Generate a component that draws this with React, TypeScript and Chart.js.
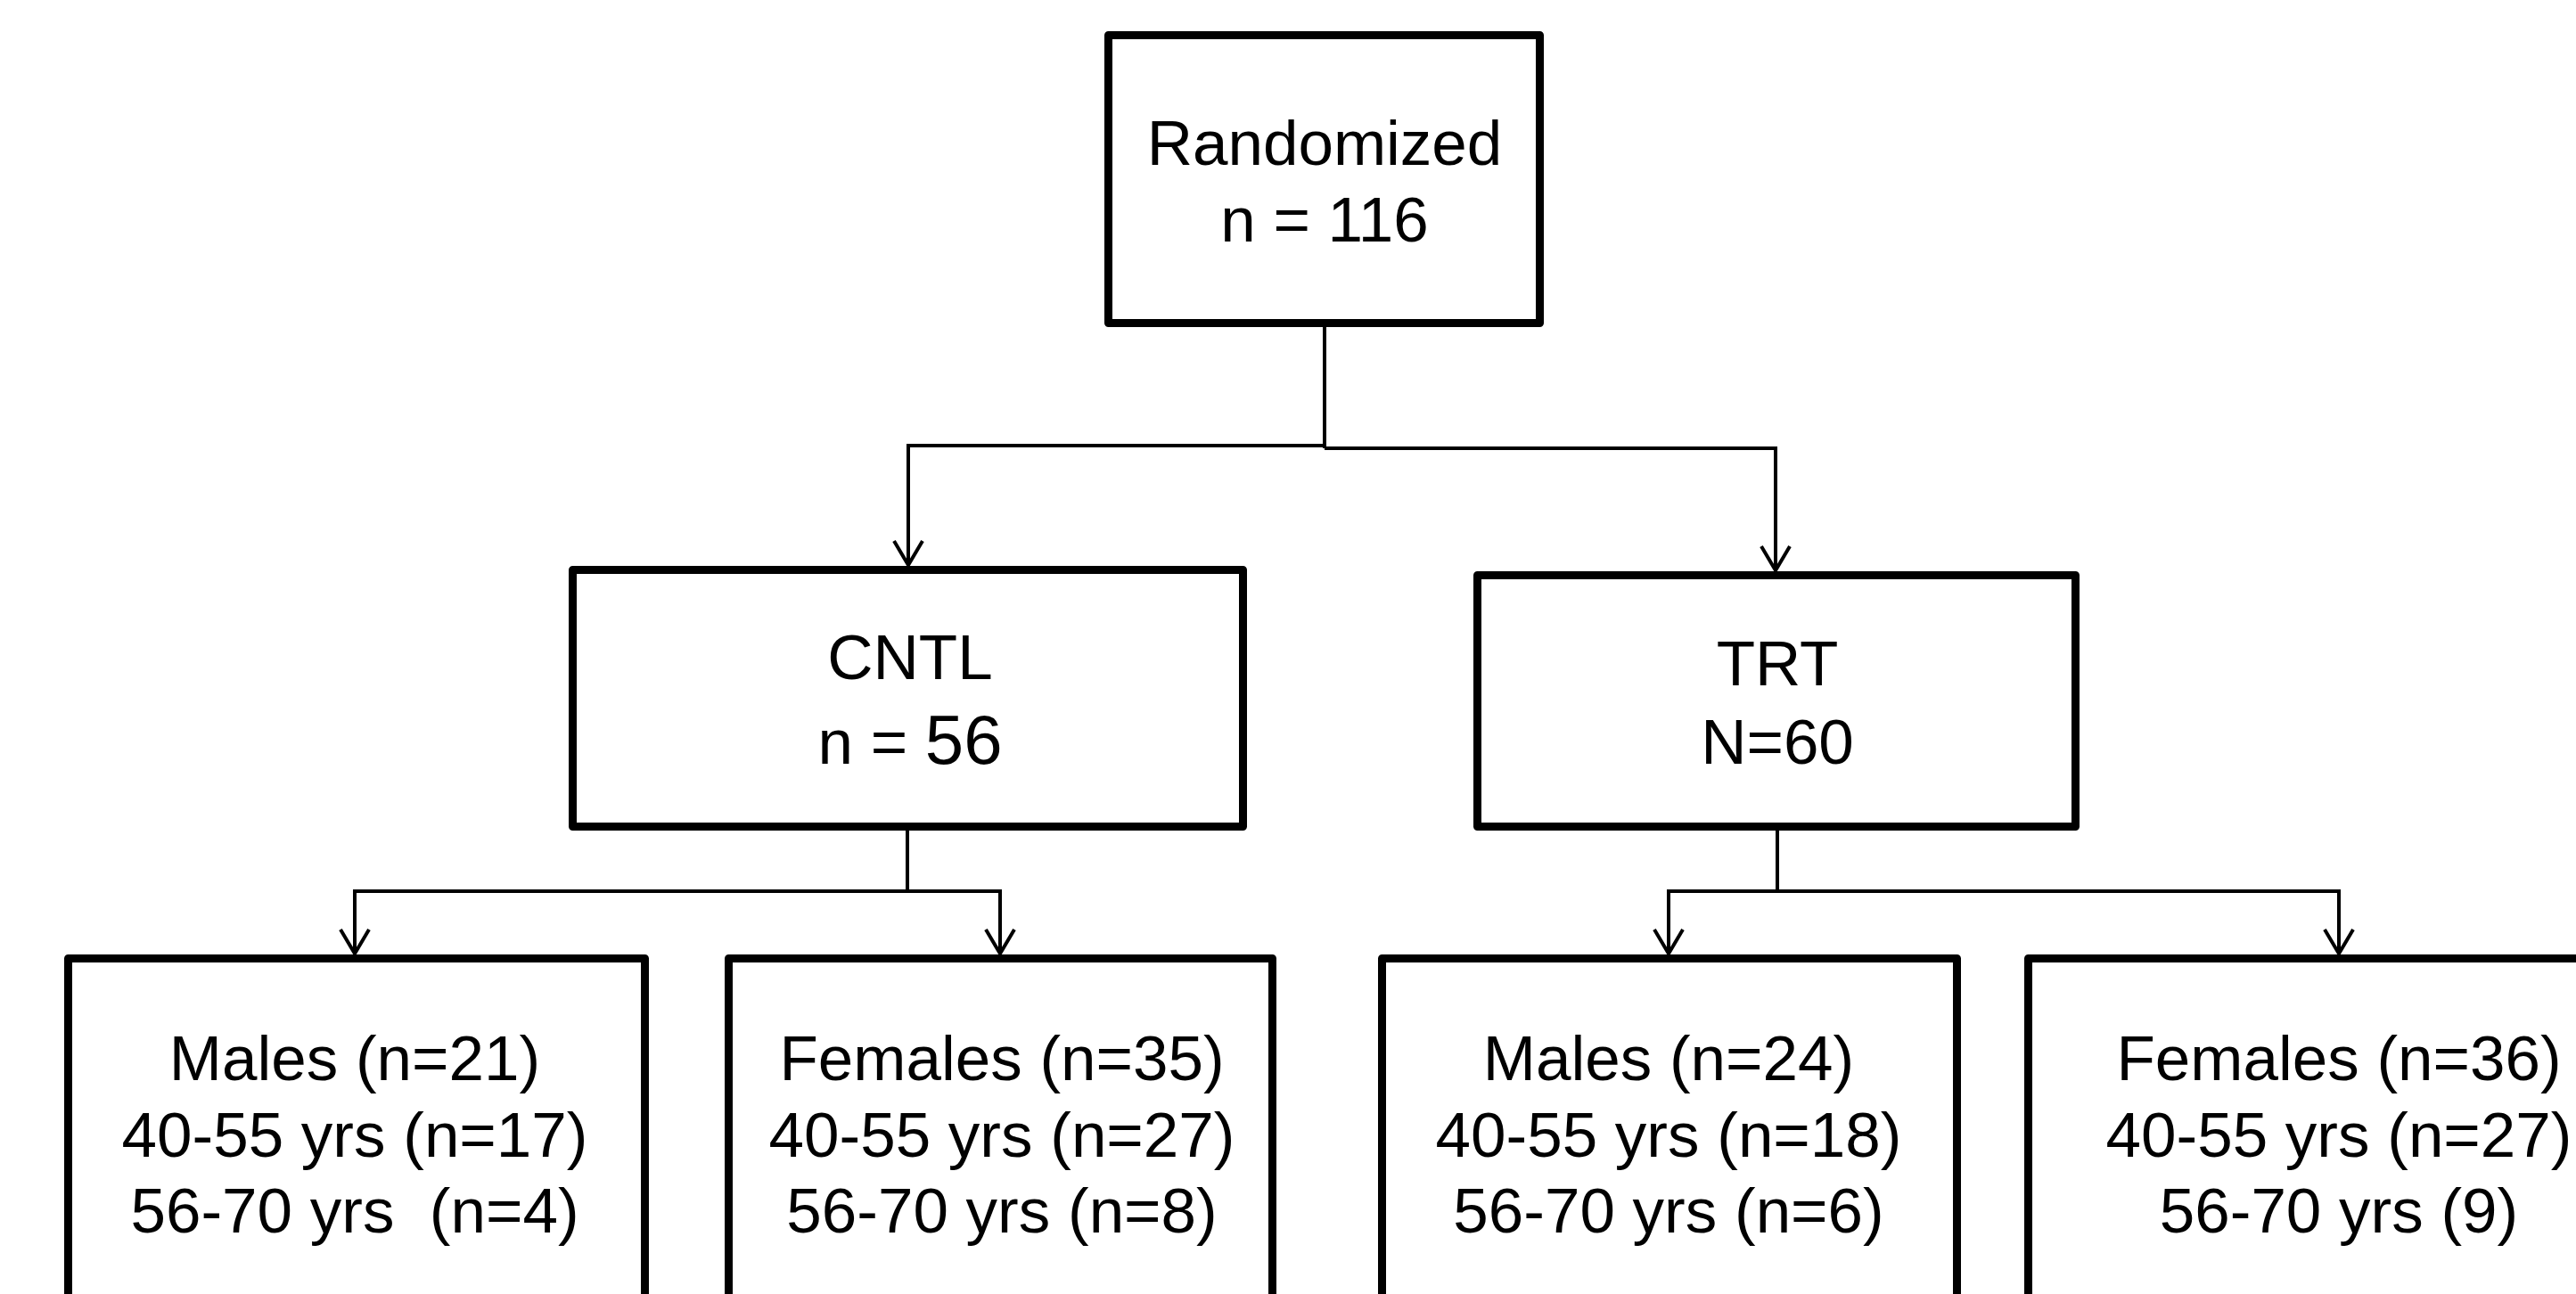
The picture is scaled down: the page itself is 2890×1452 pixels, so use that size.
import React, { useEffect, useRef } from "react";
import { Chart, registerables } from "chart.js";

Chart.register(...registerables);

// ---------- data (texts of the flow chart) ----------
const nodeNames = ["Randomized", "CNTL", "TRT", "Males", "Females", "Males", "Females"];
const nodeCountLines = ["n = 116", "n = ", "N=60", "Males (n=21)", "Females (n=35)", "Males (n=24)", "Females (n=36)"];
const nodeCountTails = ["", "56", "", "", "", "", ""];
const youngLines = ["", "", "", "40-55 yrs (n=17)", "40-55 yrs (n=27)", "40-55 yrs (n=18)", "40-55 yrs (n=27)"];
const olderLines = ["", "", "", "56-70 yrs  (n=4)", "56-70 yrs (n=8)", "56-70 yrs (n=6)", "56-70 yrs (9)"];

// ---------- layout (data units of the hidden scales) ----------
const W = 2890;
const H = 1452;
const boxLeft = [1243.5, 642.5, 1657.5, 76.5, 817.5, 1550.5, 2275.5];
const boxRight = [1727.5, 1394.5, 2328.5, 723.5, 1427.5, 2195.5, 2970];
const boxTop = [39.5, 639.5, 645.5, 1075.5, 1075.5, 1075.5, 1075.5];
const boxBottom = [362.5, 927.5, 927.5, 1530, 1530, 1530, 1530];
const textCenterX = [1486, 1021, 1994, 398, 1124, 1872, 2624];
const baseline1 = [185, 762, 769, 1212, 1212, 1212, 1212];
const baseline2 = [271, 857, 857, 1298, 1298, 1298, 1298];
const baseline3 = [0, 0, 0, 1383, 1383, 1383, 1383];

const connectorXs: number[][] = [
  [1486, 1486],
  [1486, 1019, 1019],
  [1486, 1992, 1992],
  [1018, 1018],
  [398, 398, 1122, 1122],
  [1994, 1994],
  [1872, 1872, 2624, 2624],
];
const connectorYs: number[][] = [
  [366, 503],
  [500, 500, 634],
  [503, 503, 640],
  [931, 1000],
  [1070, 1000, 1000, 1070],
  [931, 1000],
  [1070, 1000, 1000, 1070],
];
const arrowTipX = [1019, 1992, 398, 1122, 1872, 2624];
const arrowTipY = [634, 640, 1070, 1070, 1070, 1070];
const arrowHalfWidth = 16;
const arrowLength = 27;

const FONT = '"Liberation Sans", Arial, sans-serif';
const FONT_SIZE = 71;
const FONT_SIZE_BIG = 78;

const flowPlugin = {
  id: "flowBoxes",
  beforeDraw(chart: any) {
    const ctx = chart.ctx;
    ctx.save();
    ctx.fillStyle = "#ffffff";
    ctx.fillRect(0, 0, chart.width, chart.height);
    ctx.restore();
  },
  afterDatasetsDraw(chart: any) {
    const ctx: CanvasRenderingContext2D = chart.ctx;
    const xs = chart.scales.x;
    const ys = chart.scales.y;
    ctx.save();
    ctx.strokeStyle = "#000000";
    ctx.lineWidth = 9;
    ctx.lineJoin = "round";
    for (let i = 0; i < nodeNames.length; i++) {
      const l = xs.getPixelForValue(boxLeft[i]);
      const r = xs.getPixelForValue(boxRight[i]);
      const t = ys.getPixelForValue(boxTop[i]);
      const b = ys.getPixelForValue(boxBottom[i]);
      ctx.fillStyle = "#ffffff";
      ctx.fillRect(l, t, r - l, b - t);
      ctx.strokeRect(l, t, r - l, b - t);
    }
    ctx.fillStyle = "#000000";
    ctx.textBaseline = "alphabetic";
    const normal = `${FONT_SIZE}px ${FONT}`;
    const big = `${FONT_SIZE_BIG}px ${FONT}`;
    const drawCentered = (text: string, tail: string, cx: number, by: number) => {
      ctx.font = normal;
      const w1 = ctx.measureText(text).width;
      ctx.font = big;
      const w2 = tail ? ctx.measureText(tail).width : 0;
      const start = cx - (w1 + w2) / 2;
      ctx.textAlign = "left";
      ctx.font = normal;
      ctx.fillText(text, start, by);
      if (tail) {
        ctx.font = big;
        ctx.fillText(tail, start + w1, by);
      }
    };
    for (let i = 0; i < nodeNames.length; i++) {
      const cx = xs.getPixelForValue(textCenterX[i]);
      if (i < 3) {
        drawCentered(nodeNames[i], "", cx, ys.getPixelForValue(baseline1[i]));
        drawCentered(nodeCountLines[i], nodeCountTails[i], cx, ys.getPixelForValue(baseline2[i]));
      } else {
        drawCentered(nodeCountLines[i], "", cx, ys.getPixelForValue(baseline1[i]));
        drawCentered(youngLines[i], "", cx, ys.getPixelForValue(baseline2[i]));
        drawCentered(olderLines[i], "", cx, ys.getPixelForValue(baseline3[i]));
      }
    }
    ctx.restore();
  },
};

export default function App() {
  const canvasRef = useRef<HTMLCanvasElement | null>(null);

  useEffect(() => {
    const canvas = canvasRef.current;
    if (!canvas) return;
    const datasets: any[] = [];
    connectorXs.forEach((xsArr, i) => {
      datasets.push({
        data: xsArr.map((x, j) => ({ x, y: connectorYs[i][j] })),
        showLine: true,
        borderColor: "#000000",
        borderWidth: 4,
        pointRadius: 0,
        borderJoinStyle: "miter",
        tension: 0,
      });
    });
    arrowTipX.forEach((tx, i) => {
      const ty = arrowTipY[i];
      datasets.push({
        data: [
          { x: tx - arrowHalfWidth, y: ty - arrowLength },
          { x: tx, y: ty },
          { x: tx + arrowHalfWidth, y: ty - arrowLength },
        ],
        showLine: true,
        borderColor: "#000000",
        borderWidth: 4,
        pointRadius: 0,
        borderJoinStyle: "miter",
        tension: 0,
      });
    });
    const chart = new Chart(canvas, {
      type: "scatter",
      data: { datasets },
      options: {
        animation: false,
        responsive: false,
        devicePixelRatio: 1,
        layout: { padding: 0 },
        plugins: { legend: { display: false }, tooltip: { enabled: false } },
        scales: {
          x: { type: "linear", min: 0, max: W, display: false },
          y: { type: "linear", min: 0, max: H, reverse: true, display: false },
        },
      },
      plugins: [flowPlugin],
    } as any);
    return () => chart.destroy();
  }, []);

  return (
    <div style={{ position: "absolute", left: 0, top: 0, width: W, height: H, background: "#fff" }}>
      <canvas ref={canvasRef} width={W} height={H} style={{ display: "block" }} />
    </div>
  );
}
